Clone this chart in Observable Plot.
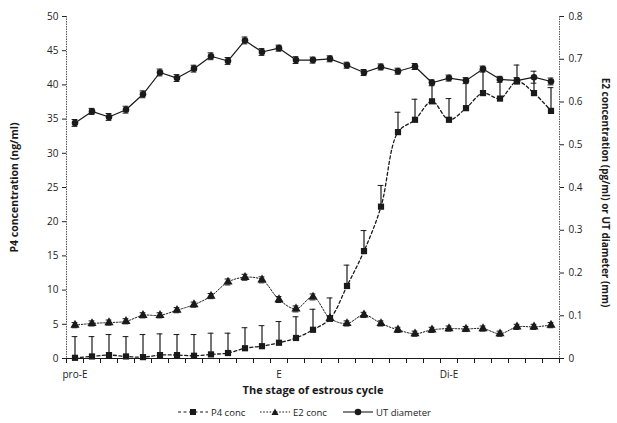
<!DOCTYPE html>
<html><head><meta charset="utf-8">
<script src="https://cdn.jsdelivr.net/npm/d3@7"></script>
<script src="https://cdn.jsdelivr.net/npm/@observablehq/plot@0.6"></script>
<style>
body{margin:0;background:#fff;font-family:"Open Sans",sans-serif;}
#wrap{position:relative;width:617px;height:423px;overflow:hidden;}
#legend{position:absolute;left:0;top:400px;width:617px;height:23px;font-size:9.5px;color:#222;}
#legend .it{position:absolute;top:4px;display:flex;align-items:center;height:16px;}
#legend svg{margin-right:3px;}
</style></head><body>
<div id="wrap"><div id="chart"></div><div id="legend"></div></div>
<script>
// categories (stage index) and axis labels
const stageIndex = [0, 12, 22];
const stageLabels = ["pro-E", "E", "Di-E"];
const nPoints = 29;
// P4 concentration (ng/ml), left axis, with upward SE
const p4 = [0.1, 0.3, 0.5, 0.3, 0.2, 0.5, 0.5, 0.4, 0.6, 0.8, 1.5, 1.8, 2.3, 3.0, 4.2, 5.8, 10.6, 15.7, 22.2, 33.1, 34.9, 37.6, 34.9, 36.6, 38.8, 38.0, 40.5, 38.8, 36.2];
const p4Err = [3.1, 2.9, 3.0, 2.9, 3.3, 3.1, 3.0, 3.1, 3.1, 2.9, 3.0, 3.0, 3.1, 3.1, 3.0, 3.05, 3.05, 3.0, 3.1, 2.9, 3.0, 2.8, 3.1, 4.1, 3.4, 2.7, 2.4, 2.2, 3.4];
// E2 concentration (pg/ml), right axis
const e2 = [0.078, 0.082, 0.084, 0.087, 0.101, 0.101, 0.113, 0.126, 0.146, 0.179, 0.190, 0.184, 0.138, 0.116, 0.144, 0.094, 0.082, 0.102, 0.082, 0.067, 0.058, 0.067, 0.070, 0.069, 0.070, 0.058, 0.074, 0.074, 0.078];
const e2Err = [0.006, 0.006, 0.006, 0.006, 0.006, 0.006, 0.006, 0.006, 0.006, 0.007, 0.007, 0.007, 0.007, 0.007, 0.007, 0.006, 0.006, 0.006, 0.006, 0.006, 0.006, 0.006, 0.006, 0.006, 0.006, 0.006, 0.006, 0.006, 0.006];
// UT diameter (mm), right axis
const ut = [0.551, 0.578, 0.565, 0.582, 0.618, 0.669, 0.656, 0.678, 0.707, 0.696, 0.744, 0.717, 0.726, 0.698, 0.698, 0.701, 0.686, 0.669, 0.682, 0.672, 0.683, 0.645, 0.656, 0.650, 0.677, 0.653, 0.650, 0.658, 0.648];
const utErr = [0.008, 0.007, 0.008, 0.008, 0.008, 0.008, 0.008, 0.008, 0.008, 0.008, 0.008, 0.008, 0.007, 0.008, 0.007, 0.007, 0.007, 0.007, 0.007, 0.007, 0.007, 0.007, 0.007, 0.007, 0.007, 0.007, 0.007, 0.014, 0.008];
// tick values
const leftTicks = [0, 5, 10, 15, 20, 25, 30, 35, 40, 45, 50];
const rightTicks = [0, 0.1, 0.2, 0.3, 0.4, 0.5, 0.6, 0.7, 0.8];
const leftMax = 50, rightMax = 0.8;
const k = leftMax / rightMax;

const data = d3.range(nPoints).map(i => ({
  i,
  p4: p4[i], p4Top: p4[i] + p4Err[i],
  e2: e2[i] * k, e2Lo: (e2[i] - e2Err[i]) * k, e2Hi: (e2[i] + e2Err[i]) * k,
  ut: ut[i] * k, utLo: (ut[i] - utErr[i]) * k, utHi: (ut[i] + utErr[i]) * k
}));
const cap = 0.17;
const ink = "#1a1a1a";

const chart = Plot.plot({
  width: 617, height: 400,
  marginLeft: 66, marginRight: 58, marginTop: 16, marginBottom: 42,
  style: {fontFamily: "'Open Sans', sans-serif", fontSize: "10px", color: "#222", background: "#fff"},
  x: {domain: [-0.5, nPoints - 0.5]},
  y: {domain: [0, leftMax]},
  marks: [
    // axis lines
    Plot.ruleX([-0.5], {stroke: "#555", strokeDasharray: "1.5,1"}),
    Plot.ruleX([nPoints - 0.5], {stroke: "#555", strokeDasharray: "1.5,1"}),
    Plot.ruleY([0], {stroke: ink, strokeWidth: 1.2}),
    // x ticks between categories
    Plot.axisX({ticks: d3.range(-0.5, nPoints, 1), tickFormat: () => "", tickSize: 5, stroke: ink, label: null}),
    Plot.axisX({ticks: stageIndex, tickFormat: d => stageLabels[stageIndex.indexOf(d)], tickSize: 0, tickPadding: 12, fontSize: 10, label: null}),
    // left axis
    Plot.axisY({anchor: "left", ticks: leftTicks, tickSize: 4, tickPadding: 4, label: null, fontSize: 10}),
    // right axis
    Plot.axisY({anchor: "right", ticks: rightTicks.map(t => t * k), tickFormat: d => String(Math.round(d / k * 10) / 10), tickSize: 4, tickPadding: 5, label: null, fontSize: 10}),
    // axis titles
    Plot.text(["P4 concentration (ng/ml)"], {frameAnchor: "left", textAnchor: "middle", dx: -52, rotate: -90, fontWeight: "bold", fontSize: 10.5, fill: ink}),
    Plot.text(["E2 concentration (pg/ml) or UT diameter (mm)"], {frameAnchor: "right", textAnchor: "middle", dx: 46, dy: 5, rotate: 90, fontWeight: "bold", fontSize: 10, fill: ink}),
    Plot.text(["The stage of estrous cycle"], {frameAnchor: "bottom", textAnchor: "middle", dy: 35.5, fontWeight: "bold", fontSize: 11, fill: ink}),
    // lines
    Plot.line(data, {x: "i", y: "e2", stroke: ink, strokeWidth: 1, strokeDasharray: "1.6,1.6", curve: "catmull-rom"}),
    Plot.line(data, {x: "i", y: "p4", stroke: ink, strokeWidth: 1.3, strokeDasharray: "3,2.5", curve: "catmull-rom"}),
    Plot.line(data, {x: "i", y: "ut", stroke: ink, strokeWidth: 1.2}),
    // error bars P4 (upward)
    Plot.ruleX(data, {x: "i", y1: "p4", y2: "p4Top", stroke: ink, strokeWidth: 1.2}),
    Plot.ruleY(data, {y: "p4Top", x1: d => d.i - cap, x2: d => d.i + cap, stroke: ink}),
    // error bars E2
    Plot.ruleX(data, {x: "i", y1: "e2Lo", y2: "e2Hi", stroke: ink}),
    Plot.ruleY(data, {y: "e2Lo", x1: d => d.i - cap, x2: d => d.i + cap, stroke: ink}),
    Plot.ruleY(data, {y: "e2Hi", x1: d => d.i - cap, x2: d => d.i + cap, stroke: ink}),
    // error bars UT
    Plot.ruleX(data, {x: "i", y1: "utLo", y2: "utHi", stroke: ink}),
    Plot.ruleY(data, {y: "utLo", x1: d => d.i - cap, x2: d => d.i + cap, stroke: ink}),
    Plot.ruleY(data, {y: "utHi", x1: d => d.i - cap, x2: d => d.i + cap, stroke: ink}),
    // markers
    Plot.dot(data, {x: "i", y: "e2", symbol: "triangle", r: 3.4, fill: ink, stroke: "none"}),
    Plot.dot(data, {x: "i", y: "p4", symbol: "square", r: 3.5, fill: ink, stroke: "none"}),
    Plot.dot(data, {x: "i", y: "ut", symbol: "circle", r: 3.3, fill: ink, stroke: "none"})
  ]
});
document.getElementById("chart").appendChild(chart);

// legend
const legendItems = [
  {label: "P4 conc", left: 178, dash: "3,2.5", shape: "square"},
  {label: "E2 conc", left: 260, dash: "1.6,1.6", shape: "triangle"},
  {label: "UT diameter", left: 343, dash: null, shape: "circle"}
];
const leg = document.getElementById("legend");
legendItems.forEach(it => {
  const div = document.createElement("div");
  div.className = "it";
  div.style.left = it.left + "px";
  let m = "";
  if (it.shape === "square") m = '<rect x="12" y="5" width="6" height="6" fill="#1a1a1a"/>';
  if (it.shape === "triangle") m = '<path d="M15,4.5 L18.5,11 L11.5,11Z" fill="#1a1a1a"/>';
  if (it.shape === "circle") m = '<circle cx="15" cy="8" r="3.3" fill="#1a1a1a"/>';
  div.innerHTML = '<svg width="30" height="16"><line x1="0" y1="8" x2="30" y2="8" stroke="#1a1a1a" stroke-width="1.1"' + (it.dash ? ' stroke-dasharray="' + it.dash + '"' : '') + '/>' + m + '</svg><span>' + it.label + '</span>';
  leg.appendChild(div);
});
</script>
</body></html>
